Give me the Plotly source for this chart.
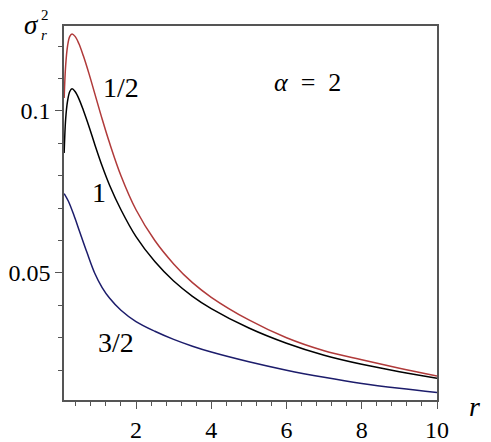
import plotly.graph_objects as go

# curve 1/2 (red)
r_half = [0.09, 0.13, 0.18, 0.24, 0.30, 0.38, 0.48, 0.6, 0.75, 0.9, 1.1, 1.3,
          1.6, 2.0, 2.5, 3.0, 3.5, 4.0, 5.0, 6.0, 7.0, 8.0, 9.0, 10.0]
s_half = [0.1040, 0.1140, 0.1200, 0.1230, 0.1237, 0.1230, 0.1208, 0.1170, 0.1115, 0.1055, 0.0975, 0.0900,
          0.0800, 0.0695, 0.0600, 0.0528, 0.0470, 0.0425, 0.0355, 0.0300, 0.0260, 0.0232, 0.0206, 0.0182]

# curve 1 (black)
r_one = [0.09, 0.13, 0.18, 0.24, 0.30, 0.38, 0.48, 0.6, 0.75, 0.9, 1.1, 1.3,
         1.6, 2.0, 2.5, 3.0, 3.5, 4.0, 5.0, 6.0, 7.0, 8.0, 9.0, 10.0]
s_one = [0.0870, 0.0975, 0.1030, 0.1060, 0.1068, 0.1060, 0.1038, 0.1002, 0.0952, 0.0898, 0.0830, 0.0770,
         0.0695, 0.0612, 0.0535, 0.0475, 0.0428, 0.0390, 0.0330, 0.0283, 0.0246, 0.0218, 0.0195, 0.0175]

# curve 3/2 (blue)
r_three_half = [0.09, 0.2, 0.35, 0.5, 0.7, 0.9, 1.1, 1.3, 1.6, 2.0, 2.5, 3.0,
                3.5, 4.0, 5.0, 6.0, 7.0, 8.0, 9.0, 10.0]
s_three_half = [0.0745, 0.0722, 0.0678, 0.0628, 0.0562, 0.0500, 0.0455, 0.0422, 0.0385, 0.0350, 0.0320, 0.0295,
                0.0274, 0.0256, 0.0226, 0.0200, 0.0178, 0.0159, 0.0144, 0.0131]

x_ticks = [2, 4, 6, 8, 10]
y_ticks = [0.05, 0.1]
y_tick_text = ['0.05', '0.1']

SERIF = 'Liberation Serif'

fig = go.Figure()
fig.add_trace(go.Scatter(x=r_half, y=s_half, mode='lines', line_shape='spline',
                         line=dict(color='#b03a3a', width=1.5)))
fig.add_trace(go.Scatter(x=r_one, y=s_one, mode='lines', line_shape='spline',
                         line=dict(color='black', width=1.5)))
fig.add_trace(go.Scatter(x=r_three_half, y=s_three_half, mode='lines', line_shape='spline',
                         line=dict(color='#1c1c6b', width=1.5)))

# plot area in page pixels: left 64, right 437, top 26, bottom 400
# (the page body adds an 8px offset, so the figure itself is 8px smaller)
def paper(px, py):
    return (px - 64) / 373, (400 - py) / 374

labels = [
    ('1/2', 121, 87, 28, 'center'),
    ('1', 99, 192, 28, 'center'),
    ('3/2', 116, 342, 28, 'center'),
    ('<i>α</i>&nbsp; = &nbsp;2', 307, 82, 26, 'center'),
    ('<i>r</i>', 474, 406, 28, 'center'),
    ('<i>σ</i>', 31, 25, 27, 'center'),
    # stacked superscript 2 over subscript r
    ('2<br><i>r</i>', 39, 25, 15, 'left'),
]
for text, px, py, size, anchor in labels:
    ax, ay = paper(px, py)
    fig.add_annotation(x=ax, y=ay, xref='paper', yref='paper', text=text, showarrow=False,
                       xanchor=anchor, yanchor='middle', align='left',
                       font=dict(family=SERIF, size=size, color='black'))

fig.update_xaxes(range=[0.086, 10], tickvals=x_ticks, ticks='outside', ticklen=7, tickwidth=1,
                 tickcolor='#555', showline=True, linecolor='#555', linewidth=1.5, mirror=True,
                 showgrid=False, zeroline=False, automargin=False,
                 minor=dict(dtick=0.4, tick0=0, ticks='outside', ticklen=4, tickcolor='#555'),
                 tickfont=dict(family=SERIF, size=24, color='black'))
fig.update_yaxes(range=[0.0108, 0.1262], tickvals=y_ticks, ticktext=y_tick_text, ticks='outside',
                 ticklen=7, tickwidth=1, tickcolor='#555', showline=True, linecolor='#555',
                 linewidth=1.5, mirror=True, showgrid=False, zeroline=False, automargin=False,
                 minor=dict(dtick=0.01, tick0=0, ticks='outside', ticklen=4, tickcolor='#555'),
                 tickfont=dict(family=SERIF, size=24, color='black'))

fig.update_layout(width=483, height=434, showlegend=False,
                  margin=dict(l=56, r=54, t=18, b=42),
                  plot_bgcolor='white', paper_bgcolor='white')

fig.write_html("out.html")
